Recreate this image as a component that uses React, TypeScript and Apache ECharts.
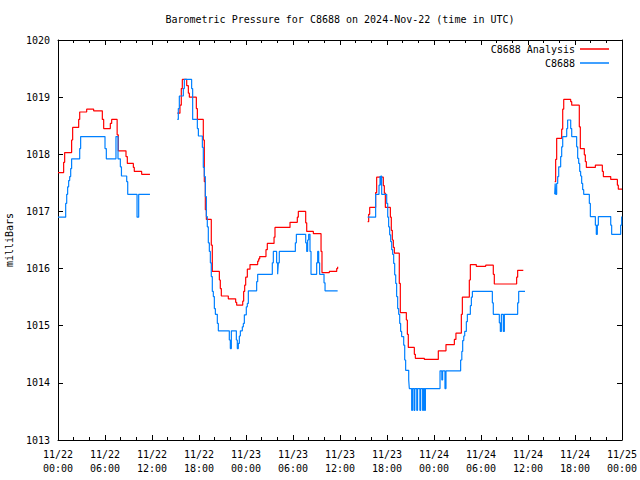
import React, { useEffect, useRef } from "react";
import * as echarts from "echarts";

const FONT = '"DejaVu Sans Mono", "Liberation Mono", monospace';

const chartTitle = "Barometric Pressure for C8688 on 2024-Nov-22 (time in UTC)";
const yAxisTitle = "milliBars";
const seriesNames = ["C8688 Analysis", "C8688"];
const seriesColors = ["#ff0000", "#0080ff"];
const xTickLabels = [
  "11/22\n00:00", "11/22\n06:00", "11/22\n12:00", "11/22\n18:00",
  "11/23\n00:00", "11/23\n06:00", "11/23\n12:00", "11/23\n18:00",
  "11/24\n00:00", "11/24\n06:00", "11/24\n12:00", "11/24\n18:00",
  "11/25\n00:00",
];
const yMin = 1013;
const yMax = 1020;

// [hours since 11/22 00:00 UTC, pressure in mb]
const analysisSeg1: [number, number][] = [
  [0, 1017.68], [0.72, 1017.86], [0.85, 1018.03], [1.74, 1018.25], [1.87, 1018.47],
  [2.64, 1018.61], [2.77, 1018.74], [3.66, 1018.79], [4.55, 1018.76], [5.66, 1018.61],
  [5.83, 1018.45], [6.68, 1018.54], [6.85, 1018.61], [7.55, 1018.34], [7.7, 1018.06],
  [8.68, 1017.96], [8.85, 1017.84], [9.62, 1017.77], [9.74, 1017.7], [10.68, 1017.65],
  [11.74, 1017.65],
];
const analysisSeg2: [number, number][] = [
  [15.23, 1018.72], [15.57, 1018.86], [15.74, 1019.15], [15.87, 1019.31], [16.43, 1019.2],
  [16.64, 1019.07], [16.77, 1019.0], [17.66, 1018.8], [17.79, 1018.61], [18.55, 1018.25],
  [18.68, 1017.52], [18.81, 1017.03], [18.94, 1016.86], [19.57, 1016.41], [19.7, 1015.95],
  [20.6, 1015.8], [20.72, 1015.65], [20.85, 1015.52], [21.74, 1015.47], [22.68, 1015.41],
  [22.81, 1015.36], [23.58, 1015.43], [23.7, 1015.6], [23.83, 1015.71], [23.96, 1015.85],
  [24.17, 1015.99], [24.51, 1016.07], [25.49, 1016.13], [25.62, 1016.17], [25.75, 1016.21],
  [26.55, 1016.33], [26.72, 1016.44], [27.58, 1016.55], [27.7, 1016.72], [29.62, 1016.81],
  [30.55, 1016.9], [30.68, 1017.0], [31.62, 1016.8], [31.75, 1016.65], [32.6, 1016.61],
  [33.58, 1016.3], [33.7, 1015.93], [34.64, 1015.95], [35.58, 1016.0], [35.7, 1016.03],
];
const analysisSeg3: [number, number][] = [
  [39.53, 1016.82], [39.66, 1016.95], [39.79, 1017.07], [40.55, 1017.33], [40.68, 1017.6],
  [41.53, 1017.45], [41.66, 1017.32], [41.79, 1017.07], [42.43, 1016.9], [42.55, 1016.67],
  [42.68, 1016.5], [42.81, 1016.37], [42.94, 1016.27], [43.57, 1015.74], [43.7, 1015.23],
  [44.47, 1015.1], [44.6, 1014.85], [44.72, 1014.62], [45.49, 1014.5], [45.62, 1014.43],
  [46.77, 1014.41], [48.55, 1014.56], [49.53, 1014.67], [50.6, 1014.76], [50.8, 1014.87],
  [51.49, 1015.2], [51.62, 1015.5], [52.51, 1015.8], [52.64, 1016.07], [53.4, 1016.04],
  [54.6, 1016.06], [55.57, 1015.9], [55.7, 1015.73], [58.55, 1015.85], [58.68, 1015.97],
  [59.4, 1015.97],
];
const analysisSeg4: [number, number][] = [
  [63.41, 1017.52], [63.53, 1017.91], [63.66, 1018.28], [64.3, 1018.44], [64.43, 1018.79],
  [64.56, 1018.96], [65.45, 1018.92], [65.58, 1018.86], [66.55, 1018.48], [66.68, 1018.1],
  [67.19, 1017.99], [67.32, 1017.87], [67.45, 1017.77], [68.6, 1017.81], [69.49, 1017.7],
  [69.62, 1017.61], [70.56, 1017.56], [71.41, 1017.46], [71.53, 1017.39], [72, 1017.39],
];

const observedSeg1: [number, number][] = [
  [0, 1016.9], [0.98, 1017.14], [1.11, 1017.3], [1.23, 1017.43], [1.36, 1017.54],
  [1.49, 1017.61], [1.62, 1017.75], [1.74, 1017.92], [2.77, 1018.1], [2.89, 1018.31],
  [6.0, 1018.1], [6.17, 1017.92], [7.4, 1018.31], [7.66, 1017.92], [7.96, 1017.78],
  [8.1, 1017.62], [8.77, 1017.52], [8.9, 1017.3], [10.09, 1016.9], [10.3, 1017.3],
  [11.74, 1017.3],
];
const observedSeg2: [number, number][] = [
  [15.23, 1018.61], [15.36, 1018.8], [15.49, 1019.02], [16.0, 1019.15], [16.13, 1019.31],
  [17.06, 1019.15], [17.19, 1018.61], [17.79, 1018.45], [17.92, 1018.32], [18.43, 1018.12],
  [18.55, 1017.77], [18.68, 1017.61], [18.81, 1017.26], [18.94, 1016.91], [19.06, 1016.73],
  [19.19, 1016.45], [19.32, 1016.3], [19.45, 1016.1], [19.57, 1015.86], [19.7, 1015.6],
  [19.83, 1015.51], [19.96, 1015.3], [20.09, 1015.2], [20.34, 1015.04], [20.47, 1014.91],
  [21.87, 1014.75], [22.0, 1014.6], [22.13, 1014.91], [22.77, 1014.75], [22.89, 1014.6],
  [23.02, 1014.69], [23.15, 1014.82], [23.28, 1014.91], [23.53, 1014.98], [23.66, 1015.04],
  [23.79, 1015.19], [24.04, 1015.33], [24.17, 1015.39], [24.3, 1015.61], [25.36, 1015.77],
  [25.49, 1015.9], [27.36, 1016.1], [27.49, 1016.3], [27.91, 1016.1], [28.04, 1015.9],
  [28.13, 1016.1], [28.25, 1016.3], [30.3, 1016.45], [30.43, 1016.6], [31.62, 1016.45],
  [31.75, 1016.3], [31.87, 1016.5], [32.0, 1016.6], [32.17, 1016.3], [32.3, 1015.9],
  [33.02, 1016.1], [33.15, 1016.3], [33.28, 1016.1], [33.4, 1015.9], [33.96, 1015.75],
  [34.09, 1015.61], [35.7, 1015.61],
];
const observedSeg3: [number, number][] = [
  [39.53, 1016.9], [40.55, 1017.3], [40.98, 1017.46], [41.11, 1017.62], [41.17, 1017.46],
  [41.22, 1017.62], [41.32, 1017.3], [41.96, 1017.14], [42.09, 1016.9], [42.21, 1016.73],
  [42.34, 1016.59], [42.47, 1016.47], [42.6, 1016.33], [42.72, 1016.25], [42.85, 1016.09],
  [42.98, 1015.89], [43.11, 1015.74], [43.23, 1015.51], [43.36, 1015.3], [43.49, 1015.2],
  [43.62, 1015.04], [43.74, 1014.9], [43.87, 1014.81], [44.13, 1014.66], [44.26, 1014.4],
  [44.38, 1014.22], [44.77, 1014.05], [44.85, 1013.9], [45.15, 1013.52], [45.25, 1013.9],
  [45.45, 1013.52], [45.55, 1013.9], [45.8, 1013.52], [45.9, 1013.9], [46.2, 1013.52],
  [46.3, 1013.9], [46.55, 1013.52], [46.65, 1013.9], [46.8, 1013.52], [46.9, 1013.9],
  [48.77, 1014.21], [49.0, 1014.05], [49.1, 1014.21],
  [49.4, 1013.9], [49.53, 1014.21], [51.4, 1014.4], [51.55, 1014.55], [51.66, 1014.74],
  [51.8, 1014.82], [51.92, 1014.9], [52.13, 1015.07], [52.26, 1015.2], [52.64, 1015.35],
  [52.77, 1015.5], [52.9, 1015.6], [55.45, 1015.4], [55.57, 1015.2], [56.34, 1015.05],
  [56.47, 1014.9], [56.6, 1015.2], [56.85, 1014.9], [56.98, 1015.2], [58.68, 1015.4],
  [58.81, 1015.6], [59.62, 1015.6],
];
const observedSeg4: [number, number][] = [
  [63.41, 1017.3], [63.47, 1017.49], [63.53, 1017.3], [63.66, 1017.49], [63.79, 1017.61],
  [63.92, 1017.78], [64.17, 1017.96], [64.3, 1018.13], [64.43, 1018.31], [64.94, 1018.45],
  [65.06, 1018.6], [65.45, 1018.45], [65.58, 1018.31], [66.21, 1018.13], [66.34, 1017.93],
  [66.47, 1017.84], [66.6, 1017.7], [66.72, 1017.62], [66.85, 1017.49], [66.98, 1017.38],
  [67.11, 1017.3], [67.83, 1017.14], [67.96, 1016.91], [68.6, 1016.76], [68.72, 1016.6],
  [68.85, 1016.76], [68.98, 1016.91], [70.56, 1016.76], [70.68, 1016.6], [71.83, 1016.76],
  [71.96, 1016.91], [72, 1016.91],
];

const analysisSegments = [analysisSeg1, analysisSeg2, analysisSeg3, analysisSeg4];
const observedSegments = [observedSeg1, observedSeg2, observedSeg3, observedSeg4];

function makeX(primary: boolean) {
  return {
    type: "value",
    position: primary ? "bottom" : "top",
    min: 0,
    max: 72,
    interval: 6,
    axisLine: { show: true, onZero: false, lineStyle: { color: "#000", width: 1 } },
    axisTick: { show: true, inside: true, length: 5, lineStyle: { color: "#000" } },
    minorTick: { show: true, splitNumber: 3, length: 3, lineStyle: { color: "#000" } },
    splitLine: { show: false },
    axisLabel: primary
      ? {
          show: true,
          margin: 7,
          color: "#000",
          fontFamily: FONT,
          fontSize: 10,
          lineHeight: 14,
          hideOverlap: false,
          formatter: (v: number) => xTickLabels[Math.round(v / 6)] ?? "",
        }
      : { show: false },
  };
}

function makeY(primary: boolean) {
  return {
    type: "value",
    position: primary ? "left" : "right",
    min: yMin,
    max: yMax,
    interval: 1,
    name: primary ? yAxisTitle : "",
    nameLocation: "middle",
    nameRotate: 90,
    nameGap: 44,
    nameTextStyle: { color: "#000", fontFamily: FONT, fontSize: 10 },
    axisLine: { show: true, onZero: false, lineStyle: { color: "#000", width: 1 } },
    axisTick: { show: true, inside: true, length: 5, lineStyle: { color: "#000" } },
    splitLine: { show: false },
    axisLabel: primary
      ? {
          show: true,
          margin: 8,
          color: "#000",
          fontFamily: FONT,
          fontSize: 10,
          formatter: (v: number) => String(v),
        }
      : { show: false },
  };
}

export default function App() {
  const ref = useRef<HTMLDivElement>(null);
  useEffect(() => {
    if (!ref.current) return;
    const chart = echarts.init(ref.current, null, { renderer: "svg" });
    const series: any[] = [];
    const groups = [analysisSegments, observedSegments];
    groups.forEach((segs, gi) => {
      segs.forEach((seg) => {
        series.push({
          name: seriesNames[gi],
          type: "line",
          step: "end",
          xAxisIndex: 0,
          yAxisIndex: 0,
          data: seg,
          showSymbol: false,
          symbol: "none",
          color: seriesColors[gi],
          lineStyle: { color: seriesColors[gi], width: 1.2 },
          z: gi === 0 ? 2 : 3,
        });
      });
    });
    chart.setOption({
      animation: false,
      backgroundColor: "#ffffff",
      textStyle: { fontFamily: FONT },
      grid: {
        left: 58,
        right: 18,
        top: 40,
        bottom: 40,
        containLabel: false,
        outerBoundsMode: "none",
      },
      graphic: [
        {
          type: "text",
          x: 340,
          y: 19,
          style: {
            text: chartTitle,
            textAlign: "center",
            textVerticalAlign: "middle",
            font: `10px ${FONT}`,
            fill: "#000",
          },
        },
      ],
      legend: {
        data: seriesNames,
        orient: "vertical",
        right: 26,
        top: 39,
        align: "right",
        itemGap: 4,
        itemWidth: 29,
        itemHeight: 1.5,
        icon: "rect",
        textStyle: { color: "#000", fontFamily: FONT, fontSize: 10 },
      },
      xAxis: [makeX(true), makeX(false)],
      yAxis: [makeY(true), makeY(false)],
      series,
    });
    return () => chart.dispose();
  }, []);
  return (
    <div
      ref={ref}
      style={{ position: "absolute", left: 0, top: 0, width: 640, height: 480, background: "#fff" }}
    />
  );
}
